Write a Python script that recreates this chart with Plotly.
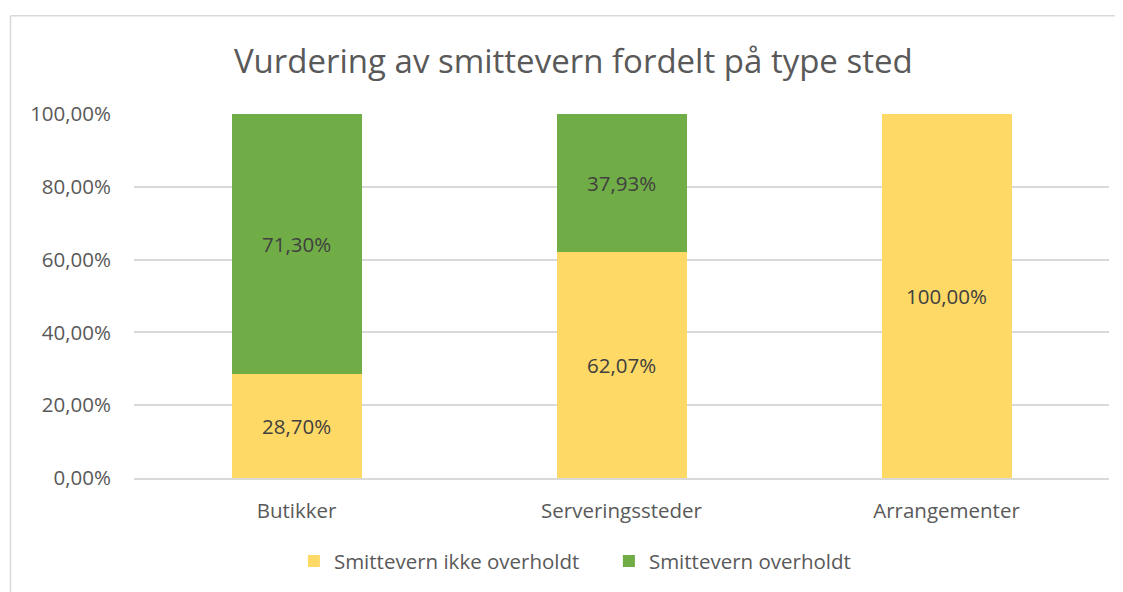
import plotly.graph_objects as go

# Data
categories = ["Butikker", "Serveringssteder", "Arrangementer"]
ikke_overholdt = [0.2870, 0.6207, 1.0]
overholdt = [0.7130, 0.3793, 0.0]
y_ticks = [0, 0.2, 0.4, 0.6, 0.8, 1.0]

YELLOW = "#FFD966"
GREEN = "#70AD47"
FONT = "Open Sans"
FS = 20.5


def labels(values):
    # empty label for zero-height segments, as in the source chart
    return ["%{y:.2%}" if v > 0 else "" for v in values]


fig = go.Figure()

fig.add_trace(go.Bar(
    x=categories, y=ikke_overholdt,
    name="Smittevern ikke overholdt",
    marker=dict(color=YELLOW, line=dict(width=0)),
    texttemplate=labels(ikke_overholdt),
    textposition="inside", insidetextanchor="middle",
    textfont=dict(color="#404040", size=FS, family=FONT),
    hoverinfo="x+y+name",
))
fig.add_trace(go.Bar(
    x=categories, y=overholdt,
    name="Smittevern overholdt",
    marker=dict(color=GREEN, line=dict(width=0)),
    texttemplate=labels(overholdt),
    textposition="inside", insidetextanchor="middle",
    textfont=dict(color="#404040", size=FS, family=FONT),
    hoverinfo="x+y+name",
))

# outer chart frame (light grey border like the Excel chart area)
frame = dict(color="#D9D9D9", width=1.5)
fig.add_shape(type="line", xref="paper", yref="paper",
              x0=-0.1267, x1=1.03, y0=1.27, y1=1.27, line=frame)
fig.add_shape(type="line", xref="paper", yref="paper",
              x0=-0.1267, x1=-0.1267, y0=1.27, y1=-0.34, line=frame)

# the page body has an 8px margin, so the figure is sized to fit the window
fig.update_layout(
    barmode="stack",
    bargap=0.6,
    separators=", ",
    width=1115, height=584,
    margin=dict(l=126, r=14, t=106, b=113),
    plot_bgcolor="white",
    paper_bgcolor="white",
    font=dict(family=FONT, color="#595959", size=FS),
    title=dict(
        text="Vurdering av smittevern fordelt på type sted",
        x=0.507, xanchor="center", y=0.908, yanchor="middle",
        font=dict(size=33, color="#595959", family=FONT),
    ),
    legend=dict(
        orientation="h", x=0.164, xanchor="left", y=-0.225, yanchor="middle",
        font=dict(size=FS, color="#595959"),
        traceorder="normal",
        itemwidth=30,
        entrywidth=270,
    ),
    showlegend=True,
)

fig.update_yaxes(
    range=[0, 1.0], tickvals=y_ticks, tickformat=".2%",
    showgrid=True, gridcolor="#D9D9D9", gridwidth=1.5,
    zeroline=False, showline=False,
    ticklabelstandoff=22,
    tickfont=dict(size=FS, color="#595959"),
)
fig.update_xaxes(
    showgrid=False, zeroline=False,
    showline=True, linecolor="#D9D9D9", linewidth=1.5,
    ticklabelstandoff=14,
    tickfont=dict(size=FS, color="#595959"),
)

fig.write_html("out.html")
